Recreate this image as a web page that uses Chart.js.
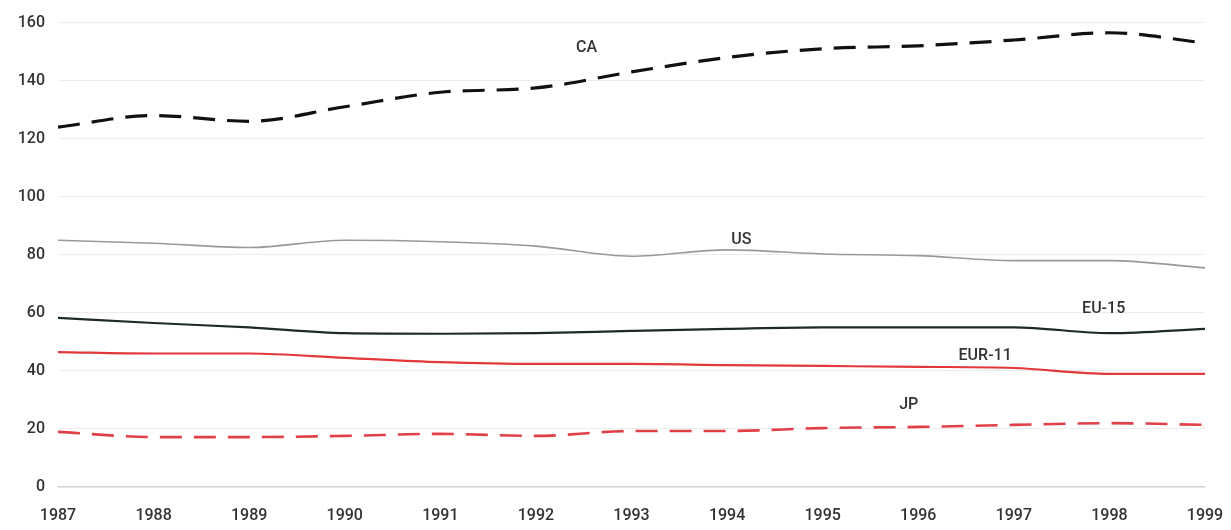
<!DOCTYPE html>
<html>
<head>
<meta charset="utf-8">
<script src="https://cdn.jsdelivr.net/npm/chart.js@4/dist/chart.umd.min.js"></script>
<style>
  html, body { margin: 0; padding: 0; background: #fff; }
  #wrap { width: 1231px; height: 530px; position: relative; }
</style>
</head>
<body>
<div id="wrap"><canvas id="chart"></canvas></div>
<script>
// Years on the x axis
const years = [1987, 1988, 1989, 1990, 1991, 1992, 1993, 1994, 1995, 1996, 1997, 1998, 1999];
const yTicks = [0, 20, 40, 60, 80, 100, 120, 140, 160];

// Series values
const caValues   = [124, 128, 126, 131, 136, 137.5, 143, 148, 151, 152, 154, 156.5, 153];
const usValues   = [85, 84, 82.5, 85, 84.5, 83, 79.5, 81.7, 80.3, 79.7, 78, 78, 75.5];
const eu15Values = [58.3, 56.5, 55, 53, 52.8, 53, 53.8, 54.5, 55, 55, 55, 53, 54.5];
const eur11Values = [46.5, 46, 46, 44.5, 43, 42.4, 42.4, 42, 41.7, 41.4, 41, 39, 39];
const jpValues   = [19, 17.2, 17.2, 17.6, 18.3, 17.6, 19.3, 19.3, 20.3, 20.7, 21.4, 22, 21.4];

// Inline series labels: [text, year, value]
const seriesLabels = [
  ['CA', 1992.53, 151.4],
  ['US', 1994.15, 85.2],
  ['EU-15', 1997.94, 61.4],
  ['EUR-11', 1996.7, 45.2],
  ['JP', 1995.9, 28.3]
];

const fontFamily = "Roboto, 'Liberation Sans', sans-serif";

function toPoints(values) {
  return years.map((y, i) => ({ x: y, y: values[i] }));
}

const labelPlugin = {
  id: 'seriesLabels',
  afterDatasetsDraw(chart) {
    const ctx = chart.ctx;
    const xs = chart.scales.x, ys = chart.scales.y;
    ctx.save();
    ctx.font = '500 16px ' + fontFamily;
    ctx.fillStyle = '#333';
    ctx.textAlign = 'center';
    ctx.textBaseline = 'middle';
    seriesLabels.forEach(([text, x, y]) => {
      ctx.fillText(text, xs.getPixelForValue(x), ys.getPixelForValue(y));
    });
    ctx.restore();
  }
};

const common = {
  fill: false,
  pointRadius: 0,
  cubicInterpolationMode: 'monotone',
  tension: 0.4
};

new Chart(document.getElementById('chart'), {
  type: 'line',
  data: {
    datasets: [
      Object.assign({ label: 'CA', data: toPoints(caValues), borderColor: '#111', borderWidth: 3.2, borderDash: [22, 12] }, common),
      Object.assign({ label: 'US', data: toPoints(usValues), borderColor: '#9a9a9a', borderWidth: 1.6 }, common),
      Object.assign({ label: 'EU-15', data: toPoints(eu15Values), borderColor: '#1e2a24', borderWidth: 2.2 }, common),
      Object.assign({ label: 'EUR-11', data: toPoints(eur11Values), borderColor: '#e2383c', borderWidth: 2.2 }, common),
      Object.assign({ label: 'JP', data: toPoints(jpValues), borderColor: '#e04048', borderWidth: 2.6, borderDash: [22, 12] }, common)
    ]
  },
  options: {
    responsive: true,
    maintainAspectRatio: false,
    animation: false,
    layout: { padding: { top: 17, right: 26, bottom: 0, left: 0 } },
    plugins: {
      legend: { display: false },
      tooltip: { enabled: false }
    },
    scales: {
      x: {
        type: 'linear',
        min: years[0],
        max: years[years.length - 1],
        afterBuildTicks: function(scale) {
          scale.ticks = years.map(v => ({ value: v }));
        },
        afterFit: function(scale) {
          scale.height = 43;
          scale.paddingLeft = 0;
          scale.paddingRight = 0;
        },
        grid: { display: false, drawTicks: false },
        border: { display: false },
        ticks: {
          padding: 19,
          color: '#333',
          font: { family: fontFamily, size: 16, weight: '500' },
          callback: v => String(v),
          maxRotation: 0,
          autoSkip: false
        }
      },
      y: {
        min: 0,
        max: 160,
        afterBuildTicks: function(scale) {
          scale.ticks = yTicks.map(v => ({ value: v }));
        },
        afterFit: function(scale) { scale.width = 58; },
        grid: {
          color: ctx => ctx.tick && ctx.tick.value === 0 ? '#d0d0d0' : '#ececec',
          lineWidth: ctx => ctx.tick && ctx.tick.value === 0 ? 1.5 : 1,
          drawTicks: false
        },
        border: { display: false },
        ticks: {
          padding: 13,
          color: '#333',
          font: { family: fontFamily, size: 16, weight: '500' }
        }
      }
    }
  },
  plugins: [labelPlugin]
});
</script>
</body>
</html>
